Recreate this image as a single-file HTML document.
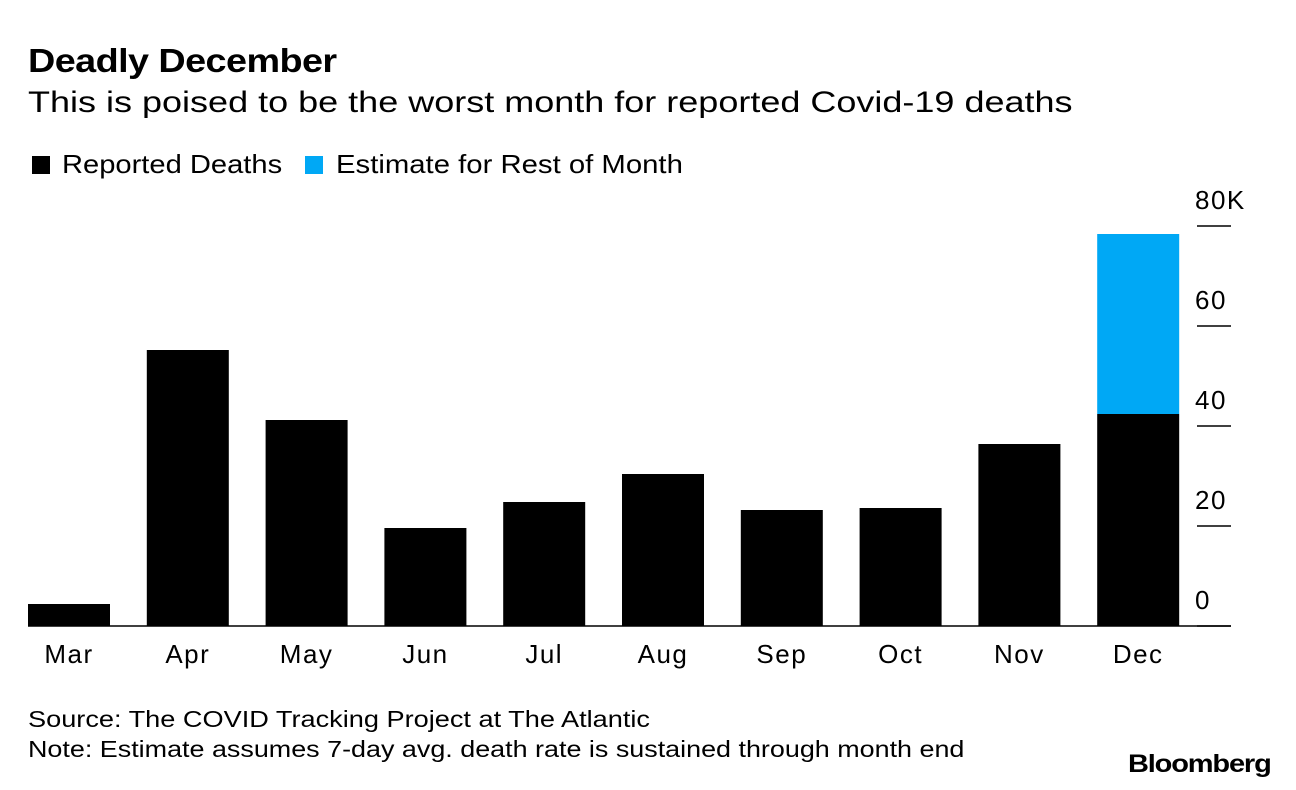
<!DOCTYPE html>
<html><head><meta charset="utf-8"><style>
body{margin:0;background:#fff;width:1296px;height:790px;overflow:hidden;font-family:"Liberation Sans",Arial,sans-serif;color:#000}
.t{position:absolute;white-space:nowrap;transform-origin:0 0}
</style></head><body>
<div class="t" style="left:28px;top:42px;font-size:33px;font-weight:bold;letter-spacing:-0.5px;transform:scaleX(1.145)">Deadly December</div>
<div class="t" style="left:28px;top:86px;font-size:30px;transform:scaleX(1.2)">This is poised to be the worst month for reported Covid-19 deaths</div>
<div class="t" style="left:32px;top:149px;font-size:26px"><span style="display:inline-block;width:18px;height:18px;background:#000;margin-right:12px;vertical-align:-1px"></span><span style="display:inline-block;transform:scaleX(1.12);transform-origin:0 0">Reported Deaths</span></div>
<div class="t" style="left:305px;top:149px;font-size:26px"><span style="display:inline-block;width:18px;height:18px;background:#00a8f5;margin-right:13px;vertical-align:-1px"></span><span style="display:inline-block;transform:scaleX(1.127);transform-origin:0 0">Estimate for Rest of Month</span></div>
<svg id="chart" width="1296" height="790" style="position:absolute;left:0;top:0"></svg>
<div class="t" style="left:28px;top:706px;font-size:23px;transform:scaleX(1.18)">Source: The COVID Tracking Project at The Atlantic</div>
<div class="t" style="left:28px;top:736px;font-size:23px;transform:scaleX(1.17)">Note: Estimate assumes 7-day avg. death rate is sustained through month end</div>
<div class="t" style="left:1128px;top:750px;font-size:25px;font-weight:bold;letter-spacing:-1px;transform:scaleX(1.16)">Bloomberg</div>
<script>
const categories=["Mar","Apr","May","Jun","Jul","Aug","Sep","Oct","Nov","Dec"];
const reported=[4.4,55.2,41.2,19.6,24.8,30.4,23.2,23.6,36.4,42.4];
const estimate=[0,0,0,0,0,0,0,0,0,36];
const ticks=[0,20,40,60,80];
const tickLabels=["0","20","40","60","80K"];
const NS="http://www.w3.org/2000/svg";
const svg=document.getElementById("chart");
const y0=626,pxPer=5;
function y(v){return y0-v*pxPer;}
function x(i){return 28+i*118.8;}
const bw=82;
function mk(tag,attrs){const e=document.createElementNS(NS,tag);for(const k in attrs)e.setAttribute(k,attrs[k]);svg.appendChild(e);return e;}
ticks.forEach((t,i)=>{
  const l=mk("line",{x1:1197,x2:1231,y1:y(t),y2:y(t),stroke:"#000","stroke-width":1.5});
  
  
  const tx=mk("text",{x:1195,y:y(t)-17,"font-size":26,"letter-spacing":1.5,"font-family":"Liberation Sans, Arial, sans-serif"});
  tx.textContent=tickLabels[i];
  
  
});
categories.forEach((c,i)=>{
  const r=mk("rect",{x:x(i),y:y(reported[i]),width:bw,height:reported[i]*pxPer,fill:"#000"});
  
  
  if(estimate[i]>0){
    const e=mk("rect",{x:x(i),y:y(reported[i]+estimate[i]),width:bw,height:estimate[i]*pxPer,fill:"#00a8f5"});
    
    
  }
  const t=mk("text",{x:x(i)+bw/2,y:663,"text-anchor":"middle","font-size":26,"letter-spacing":1.5,"font-family":"Liberation Sans, Arial, sans-serif"});
  t.textContent=c;
  
  
});
const a=mk("line",{x1:28,x2:1231,y1:y0,y2:y0,stroke:"#000","stroke-width":1.5});


</script>
</body></html>
